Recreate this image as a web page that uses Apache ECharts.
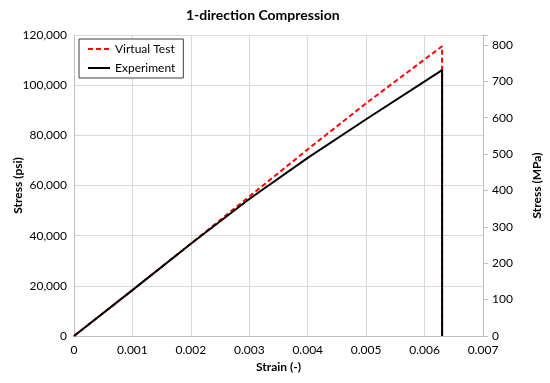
<!DOCTYPE html>
<html>
<head>
<meta charset="utf-8">
<script src="https://cdn.jsdelivr.net/npm/echarts@6/dist/echarts.min.js"></script>
<style>html,body{margin:0;padding:0;background:#fff}#c{width:550px;height:383px}</style>
</head>
<body>
<div id="c"></div>
<script>
const strainVirtual = [0, 0.001, 0.002, 0.003, 0.004, 0.005, 0.0063, 0.0063];
const stressVirtual = [0, 18300, 36800, 55600, 74400, 92800, 115500, 0];
const strainExperiment = [0, 0.001, 0.002, 0.003, 0.004, 0.005, 0.0063, 0.0063];
const stressExperiment = [0, 18300, 36800, 54600, 71000, 86400, 106000, 0];
const xTicks = [0, 0.001, 0.002, 0.003, 0.004, 0.005, 0.006, 0.007];
const psiTicks = [0, 20000, 40000, 60000, 80000, 100000, 120000];
const mpaTicks = [0, 100, 200, 300, 400, 500, 600, 700, 800];
const PSI_PER_MPA = 145.0377;

const FONT = 'Lato, "Open Sans", sans-serif';
const chart = echarts.init(document.getElementById('c'), null, {renderer: 'canvas'});
const zip = (xs, ys) => xs.map((x, i) => [x, ys[i]]);
const psiMax = psiTicks[psiTicks.length - 1];
chart.setOption({
  animation: false,
  backgroundColor: '#fff',
  title: {
    text: '1-direction Compression',
    left: 181, top: 3,
    textStyle: {fontFamily: FONT, fontSize: 14, fontWeight: 'bold', color: '#000'}
  },
  legend: {
    orient: 'vertical',
    left: 79, top: 39,
    padding: [4, 8, 4, 8],
    itemGap: 7,
    itemWidth: 22, itemHeight: 14,
    backgroundColor: '#fff',
    borderColor: '#404040', borderWidth: 1,
    itemStyle: {opacity: 0},
    textStyle: {fontFamily: FONT, fontSize: 12, color: '#000'},
    data: ['Virtual Test', 'Experiment']
  },
  grid: {left: 74, right: 67, top: 35, bottom: 47, containLabel: false, outerBoundsMode: 'none'},
  xAxis: {
    type: 'value', min: xTicks[0], max: xTicks[xTicks.length - 1], interval: 0.001,
    name: 'Strain (-)', nameLocation: 'middle', nameGap: 25, nameMoveOverlap: false,
    nameTextStyle: {fontFamily: FONT, fontSize: 12, fontWeight: 'bold', color: '#000'},
    axisLine: {show: true, lineStyle: {color: '#bfbfbf'}},
    axisTick: {show: false},
    splitLine: {show: true, lineStyle: {color: '#d9d9d9'}},
    axisLabel: {fontFamily: FONT, fontSize: 12, color: '#000', margin: 8,
      formatter: v => v === 0 ? '0' : v.toFixed(3)}
  },
  yAxis: [{
    type: 'value', min: 0, max: psiMax, interval: 20000, position: 'left',
    name: 'Stress (psi)', nameLocation: 'middle', nameGap: 50, nameMoveOverlap: false,
    nameTextStyle: {fontFamily: FONT, fontSize: 12, fontWeight: 'bold', color: '#000'},
    axisLine: {show: true, lineStyle: {color: '#bfbfbf'}},
    axisTick: {show: false},
    splitLine: {show: true, lineStyle: {color: '#d9d9d9'}},
    axisLabel: {fontFamily: FONT, fontSize: 12, color: '#000', margin: 7,
      formatter: v => v.toLocaleString('en-US')}
  }, {
    type: 'value', min: 0, max: psiMax / PSI_PER_MPA, interval: 100, position: 'right',
    name: 'Stress (MPa)', nameLocation: 'middle', nameGap: 48, nameMoveOverlap: false,
    nameTextStyle: {fontFamily: FONT, fontSize: 12, fontWeight: 'bold', color: '#000'},
    axisLine: {show: true, lineStyle: {color: '#bfbfbf'}},
    axisTick: {show: true, inside: false, length: 5, lineStyle: {color: '#bfbfbf'}},
    splitLine: {show: false},
    axisLabel: {fontFamily: FONT, fontSize: 12, color: '#000', margin: 9,
      formatter: v => mpaTicks.includes(Math.round(v)) && Math.abs(v - Math.round(v)) < 1e-6 ? String(Math.round(v)) : ''}
  }],
  series: [{
    name: 'Virtual Test', type: 'line', yAxisIndex: 0,
    data: zip(strainVirtual, stressVirtual),
    symbol: 'none',
    lineStyle: {color: '#ff0000', width: 2, type: [5, 3]},
    itemStyle: {color: '#ff0000'}
  }, {
    name: 'Experiment', type: 'line', yAxisIndex: 0,
    data: zip(strainExperiment, stressExperiment),
    symbol: 'none',
    lineStyle: {color: '#000', width: 2},
    itemStyle: {color: '#000'}
  }]
});
</script>
</body>
</html>
